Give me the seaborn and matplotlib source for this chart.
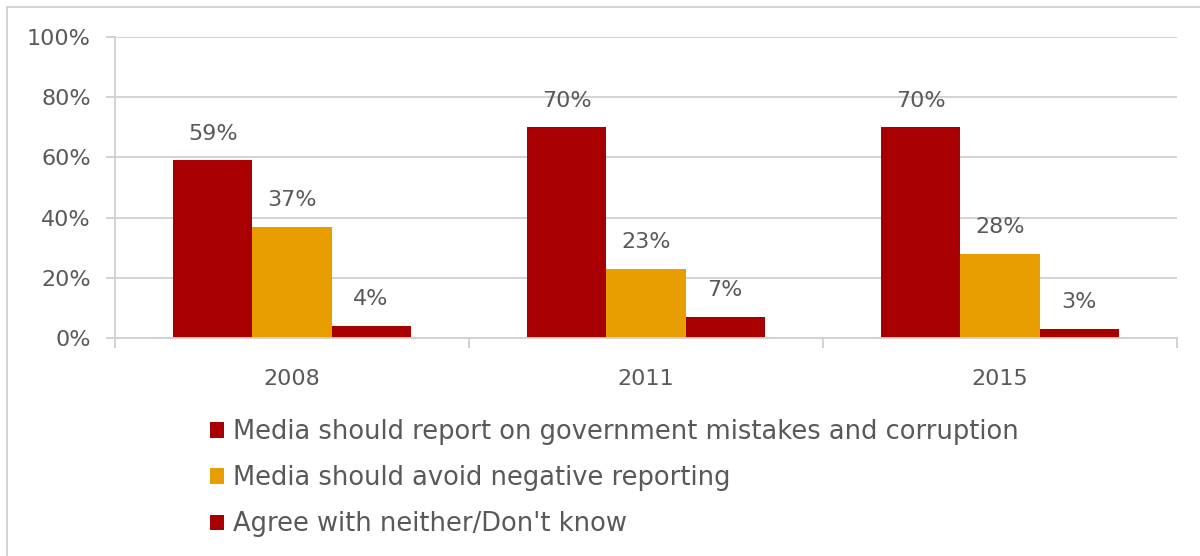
import matplotlib
matplotlib.use("Agg")
import matplotlib.pyplot as plt
import seaborn as sns
import pandas as pd
from matplotlib.lines import Line2D
from matplotlib.ticker import FixedLocator, PercentFormatter

years = ["2008", "2011", "2015"]
series = ["Media should report on government mistakes and corruption",
          "Media should avoid negative reporting",
          "Agree with neither/Don't know"]
report = [59, 70, 70]
avoid = [37, 23, 28]
neither = [4, 7, 3]
colors = ["#A80000", "#E89E00", "#A80000"]

rows = []
for name, vals in zip(series, [report, avoid, neither]):
    for y, v in zip(years, vals):
        rows.append({"year": y, "series": name, "value": v})
df = pd.DataFrame(rows)

sns.set_theme(style="white")
plt.rcParams['font.family'] = ['DejaVu Sans']
TXT = "#595959"
GRID = "#D0D0D0"

fig = plt.figure(figsize=(12, 5.56), dpi=100)
ax = fig.add_axes([115/1200, 1-338/556, (1177-115)/1200, (338-37)/556])

sns.barplot(data=df, x="year", y="value", hue="series", hue_order=series,
            order=years, palette=colors, width=0.67, gap=0, saturation=1,
            linewidth=0, edgecolor="none", ax=ax, legend=True)

for c in ax.containers:
    ax.bar_label(c, fmt="%d%%", padding=12, color=TXT, fontsize=16)

ax.set_ylim(0, 100)
ax.set_xlim(-0.5, 2.5)
ax.set_yticks([0, 20, 40, 60, 80, 100])
ax.yaxis.set_major_formatter(PercentFormatter(decimals=0))
ax.yaxis.grid(True, color=GRID, linewidth=1.3)
ax.set_axisbelow(True)
ax.set_xlabel("")
ax.set_ylabel("")
for s in ["top", "right"]:
    ax.spines[s].set_visible(False)
ax.spines["left"].set_color(GRID)
ax.spines["left"].set_linewidth(1.3)
ax.spines["bottom"].set_color(GRID)
ax.spines["bottom"].set_linewidth(1.3)
ax.tick_params(axis="y", length=6.5, color=GRID, width=1.3, labelsize=16,
               labelcolor=TXT, pad=11, left=True)
ax.tick_params(axis="x", which="major", length=0, labelsize=16, labelcolor=TXT, pad=22)
ax.xaxis.set_minor_locator(FixedLocator([-0.5, 0.5, 1.5, 2.5]))
ax.tick_params(axis="x", which="minor", length=7, color=GRID, width=1.3, bottom=True)

handles, labels = ax.get_legend_handles_labels()
ax.legend_.remove()
fig.legend(handles, labels, loc="upper left", bbox_to_anchor=(200/1200, 1-409/556),
           frameon=False, fontsize=18.5, labelcolor=TXT, handlelength=0.55,
           handleheight=0.55, handletextpad=0.35, labelspacing=0.78,
           borderaxespad=0)

fig.add_artist(Line2D([7/1200, 1], [1-7/556, 1-7/556], color=GRID, lw=1.3,
                      transform=fig.transFigure))
fig.add_artist(Line2D([7/1200, 7/1200], [0, 1-7/556], color=GRID, lw=1.3,
                      transform=fig.transFigure))

fig.savefig("out.png", dpi=100)
